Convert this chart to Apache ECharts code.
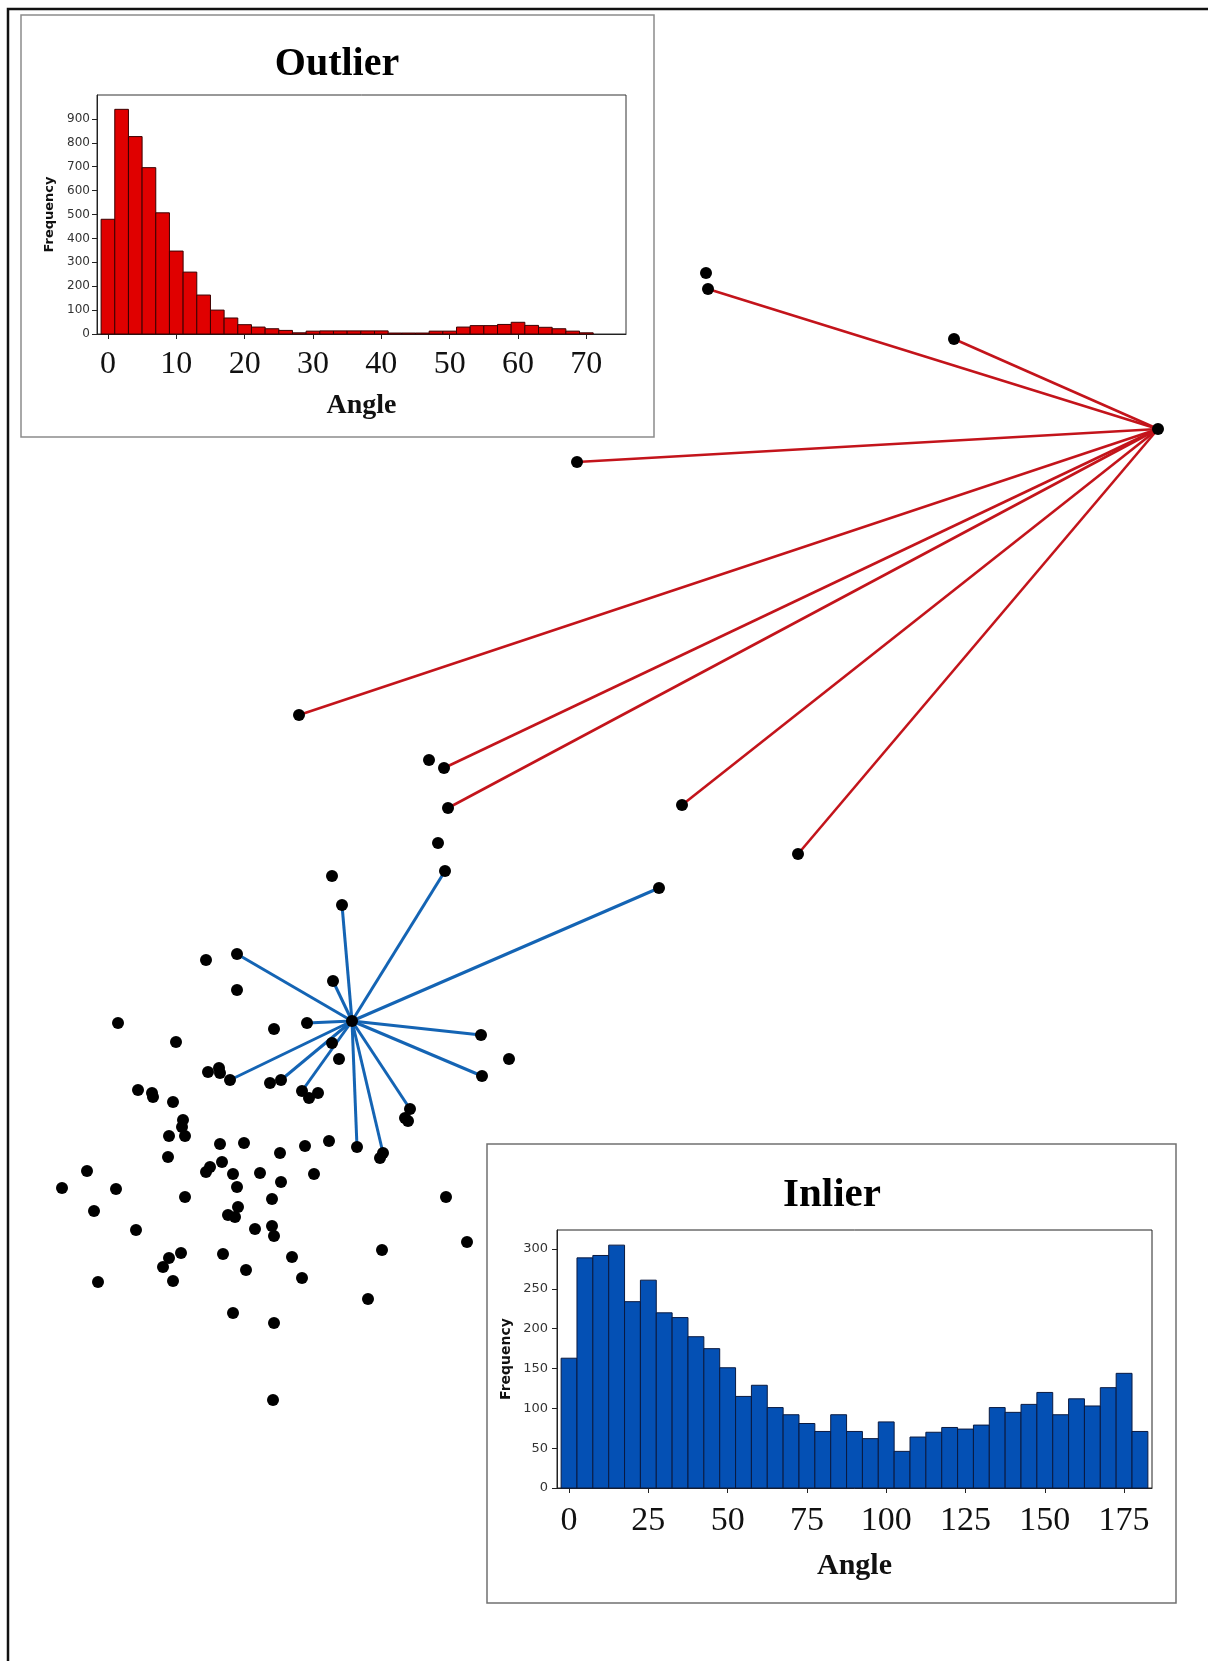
<!DOCTYPE html>
<html>
<head>
<meta charset="utf-8">
<script src="https://cdn.jsdelivr.net/npm/echarts@6/dist/echarts.min.js"></script>
<style>
  html, body { margin: 0; padding: 0; background: #fff; }
  #chart { width: 1208px; height: 1661px; }
</style>
</head>
<body>
<div id="chart"></div>
<script>
  // scatter sketch, positions (page pixels)
  const outlierHub = [1158, 429]
  const outlierEnds = [[708, 289], [954, 339], [577, 462], [299, 715], [444, 768], [448, 808], [682, 805], [798, 854]]
  const inlierHub = [352, 1021]
  const inlierEnds = [[445, 871], [342, 905], [237, 954], [333, 981], [307, 1023], [481, 1035], [482, 1076],
    [230, 1080], [281, 1080], [302, 1091], [410, 1109], [357, 1147], [383, 1153], [659, 888]]
  const looseDots = [[706, 273], [429, 760], [438, 843],
    [332, 876], [206, 960], [237, 990], [118, 1023], [274, 1029], [176, 1042], [332, 1043], [339, 1059],
    [509, 1059], [208, 1072], [219, 1068], [220, 1073], [270, 1083], [309, 1098], [318, 1093], [138, 1090],
    [152, 1093], [153, 1097], [173, 1102], [405, 1118], [408, 1121], [183, 1120], [182, 1127], [169, 1136],
    [185, 1136], [168, 1157], [220, 1144], [244, 1143], [305, 1146], [329, 1141], [380, 1158], [280, 1153],
    [222, 1162], [210, 1167], [206, 1172], [87, 1171], [233, 1174], [260, 1173], [314, 1174], [281, 1182],
    [237, 1187], [62, 1188], [116, 1189], [185, 1197], [272, 1199], [446, 1197], [94, 1211], [238, 1207],
    [228, 1215], [235, 1217], [136, 1230], [255, 1229], [272, 1226], [274, 1236], [467, 1242], [382, 1250],
    [181, 1253], [169, 1258], [223, 1254], [292, 1257], [163, 1267], [246, 1270], [302, 1278], [98, 1282],
    [173, 1281], [368, 1299], [233, 1313], [274, 1323], [273, 1400]]

  // outlier histogram (bin width 2)
  const outlierBins = [0, 2, 4, 6, 8, 10, 12, 14, 16, 18, 20, 22, 24, 26, 28, 30, 32, 34, 36, 38, 40, 42, 44, 46,
    48, 50, 52, 54, 56, 58, 60, 62, 64, 66, 68, 70]
  const outlierCounts = [480, 940, 826, 696, 507, 347, 259, 163, 100, 67, 39, 29, 22, 15, 5, 12, 13, 13, 13, 13, 13,
    4, 4, 4, 12, 12, 29, 35, 35, 40, 49, 36, 28, 22, 12, 5]
  const outlierXTicks = [0, 10, 20, 30, 40, 50, 60, 70]
  const outlierYTicks = [0, 100, 200, 300, 400, 500, 600, 700, 800, 900]

  // inlier histogram (bin width 5)
  const inlierBins = [0, 5, 10, 15, 20, 25, 30, 35, 40, 45, 50, 55, 60, 65, 70, 75, 80, 85, 90, 95, 100, 105, 110,
    115, 120, 125, 130, 135, 140, 145, 150, 155, 160, 165, 170, 175, 180]
  const inlierCounts = [163, 289, 292, 305, 234, 261, 220, 214, 190, 175, 151, 115, 129, 101, 92, 81, 71, 92, 71,
    62, 83, 46, 64, 70, 76, 74, 79, 101, 95, 105, 120, 92, 112, 103, 126, 144, 71]
  const inlierXTicks = [0, 25, 50, 75, 100, 125, 150, 175]
  const inlierYTicks = [0, 50, 100, 150, 200, 250, 300]

  const SERIF = '"Liberation Serif", "Times New Roman", serif'
  const SANS = '"DejaVu Sans", Verdana, sans-serif'

  function spokes(hub, ends) {
    return ends.map(e => ({ coords: [hub, e] }))
  }

  function binRenderer(width, fill, stroke) {
    return function (params, api) {
      const x = api.value(0)
      const p0 = api.coord([x - width / 2, api.value(1)])
      const p1 = api.coord([x + width / 2, 0])
      return {
        type: 'rect',
        shape: { x: p0[0], y: p0[1], width: p1[0] - p0[0], height: p1[1] - p0[1] },
        style: { fill: fill, stroke: stroke, lineWidth: 1 }
      }
    }
  }

  function histX(idx, min, max, ticks, fontSize, margin, nameSize, nameGap) {
    return {
      type: 'value', gridIndex: idx, min: min, max: max, z: 3,
      axisLine: { show: true, onZero: false, lineStyle: { color: '#222', width: 1 } },
      axisTick: { show: true, length: 5, customValues: ticks, lineStyle: { color: '#222' } },
      axisLabel: { customValues: ticks, fontFamily: SERIF, fontSize: fontSize, color: '#111', margin: margin },
      splitLine: { show: false },
      name: 'Angle', nameLocation: 'middle', nameGap: nameGap,
      nameTextStyle: { fontFamily: SERIF, fontWeight: 'bold', fontSize: nameSize, color: '#111' }
    }
  }

  function histY(idx, max, ticks, fontSize, margin, nameSize, nameGap) {
    return {
      type: 'value', gridIndex: idx, min: 0, max: max, z: 3,
      axisLine: { show: true, onZero: false, lineStyle: { color: '#222', width: 1 } },
      axisTick: { show: true, length: 5, customValues: ticks, lineStyle: { color: '#222' } },
      axisLabel: { customValues: ticks, fontFamily: SANS, fontSize: fontSize, color: '#333', margin: margin },
      splitLine: { show: false },
      name: 'Frequency', nameLocation: 'middle', nameRotate: 90, nameGap: nameGap,
      nameTextStyle: { fontFamily: SANS, fontWeight: 'bold', fontSize: nameSize, color: '#111' }
    }
  }

  const chart = echarts.init(document.getElementById('chart'))
  chart.setOption({
    animation: false,
    backgroundColor: '#fff',
    graphic: [
      { type: 'rect', z: -5, shape: { x: 21, y: 15, width: 633, height: 422 },
        style: { fill: '#fff', stroke: '#8c8c8c', lineWidth: 1.5 } },
      { type: 'rect', z: -5, shape: { x: 487, y: 1144, width: 689, height: 459 },
        style: { fill: '#fff', stroke: '#707070', lineWidth: 1.5 } },
      { type: 'rect', z: 50, shape: { x: 8, y: 9, width: 1230, height: 1680 },
        style: { fill: 'none', stroke: '#111', lineWidth: 2.5 } },
      { type: 'text', z: 50, x: 337, y: 65,
        style: { text: 'Outlier', font: 'bold 40px ' + SERIF, fill: '#000', textAlign: 'center', textVerticalAlign: 'middle' } },
      { type: 'text', z: 50, x: 832, y: 1195,
        style: { text: 'Inlier', font: 'bold 41px ' + SERIF, fill: '#000', textAlign: 'center', textVerticalAlign: 'middle' } }
    ],
    grid: [
      { left: 0, top: 0, width: 1208, height: 1661 },
      { left: 97, top: 95, width: 529, height: 239, show: true, z: 3, borderColor: '#333', borderWidth: 1, backgroundColor: 'transparent' },
      { left: 557, top: 1230, width: 595, height: 258, show: true, z: 3, borderColor: '#222', borderWidth: 1, backgroundColor: 'transparent' }
    ],
    xAxis: [
      { type: 'value', gridIndex: 0, min: 0, max: 1208, show: false },
      histX(1, -1.6, 75.8, outlierXTicks, 32, 15, 28, 58),
      histX(2, -3.8, 183.8, inlierXTicks, 34, 16, 30, 63)
    ],
    yAxis: [
      { type: 'value', gridIndex: 0, min: 0, max: 1661, inverse: true, show: false },
      histY(1, 1000, outlierYTicks, 12, 7, 13, 41),
      histY(2, 324, inlierYTicks, 13, 9, 14, 44)
    ],
    series: [
      {
        type: 'lines', coordinateSystem: 'cartesian2d', xAxisIndex: 0, yAxisIndex: 0, z: 2,
        lineStyle: { color: '#c3141b', width: 2.6, opacity: 1 },
        data: spokes(outlierHub, outlierEnds)
      },
      {
        type: 'lines', coordinateSystem: 'cartesian2d', xAxisIndex: 0, yAxisIndex: 0, z: 2,
        lineStyle: { color: '#1464b4', width: 3, opacity: 1 },
        data: spokes(inlierHub, inlierEnds)
      },
      {
        type: 'scatter', xAxisIndex: 0, yAxisIndex: 0, z: 4,
        symbolSize: 12, itemStyle: { color: '#000', opacity: 1 },
        data: looseDots.concat(outlierEnds, inlierEnds, [outlierHub, inlierHub])
      },
      {
        type: 'custom', xAxisIndex: 1, yAxisIndex: 1, z: 4,
        renderItem: binRenderer(2, '#e00000', '#3a0000'),
        data: outlierBins.map((b, i) => [b, outlierCounts[i]])
      },
      {
        type: 'custom', xAxisIndex: 2, yAxisIndex: 2, z: 4,
        renderItem: binRenderer(5, '#0450b4', '#0a1a40'),
        data: inlierBins.map((b, i) => [b, inlierCounts[i]])
      }
    ]
  })
</script>
</body>
</html>
